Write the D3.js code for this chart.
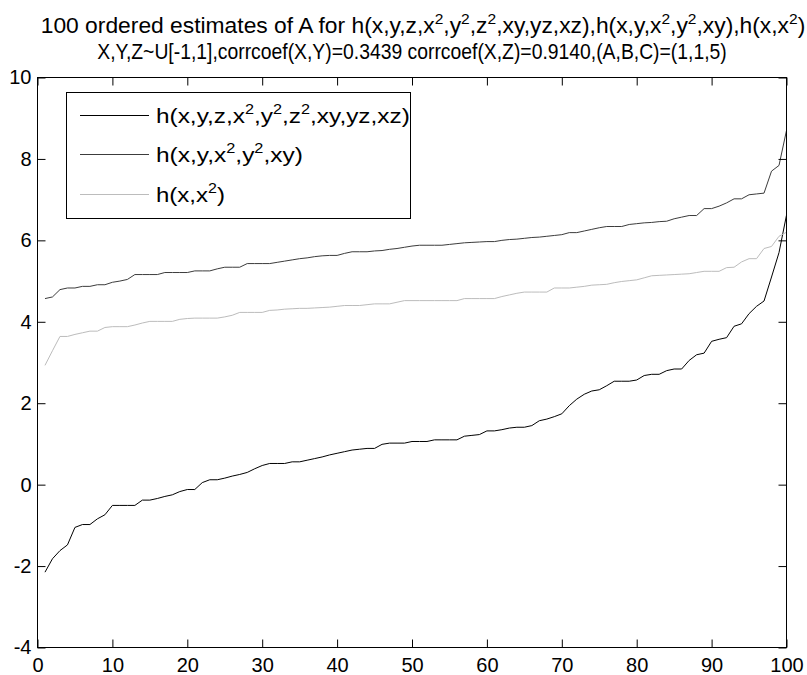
<!DOCTYPE html>
<html>
<head>
<meta charset="utf-8">
<script src="https://cdn.jsdelivr.net/npm/d3@7"></script>
<style>
  body { margin: 0; background: #fff; }
  svg { display: block; }
  text { font-family: "Liberation Sans", Arial, Helvetica, sans-serif; fill: #000; }
</style>
</head>
<body>
<svg id="chart" width="807" height="675"></svg>
<script>
// Sorted estimates of A, sample number 1..100
const fullModel = [
  -2.15, -1.82, -1.62, -1.48, -1.05, -0.98, -0.98, -0.84, -0.74, -0.51,
  -0.51, -0.51, -0.51, -0.38, -0.38, -0.34, -0.29, -0.25, -0.17, -0.12,
  -0.12, 0.05, 0.12, 0.12, 0.16, 0.21, 0.25, 0.30, 0.39, 0.47,
  0.52, 0.52, 0.52, 0.56, 0.56, 0.60, 0.64, 0.68, 0.73, 0.77,
  0.81, 0.85, 0.87, 0.89, 0.89, 0.99, 1.02, 1.02, 1.02, 1.06,
  1.06, 1.06, 1.10, 1.10, 1.10, 1.10, 1.19, 1.21, 1.23, 1.32,
  1.32, 1.35, 1.39, 1.41, 1.41, 1.45, 1.57, 1.61, 1.67, 1.74,
  1.94, 2.10, 2.22, 2.30, 2.33, 2.43, 2.54, 2.54, 2.54, 2.57,
  2.68, 2.71, 2.71, 2.80, 2.84, 2.84, 3.05, 3.19, 3.23, 3.52,
  3.57, 3.61, 3.89, 3.95, 4.20, 4.38, 4.51, 5.10, 5.70, 6.62
];
const partialModel = [
  4.57, 4.61, 4.79, 4.83, 4.83, 4.87, 4.87, 4.91, 4.91, 4.97,
  5.00, 5.04, 5.16, 5.16, 5.16, 5.16, 5.21, 5.21, 5.21, 5.21,
  5.25, 5.25, 5.25, 5.30, 5.34, 5.34, 5.34, 5.43, 5.43, 5.43,
  5.43, 5.46, 5.49, 5.52, 5.55, 5.57, 5.60, 5.62, 5.63, 5.63,
  5.68, 5.72, 5.72, 5.72, 5.74, 5.75, 5.78, 5.80, 5.83, 5.86,
  5.88, 5.88, 5.88, 5.88, 5.90, 5.92, 5.94, 5.95, 5.96, 5.97,
  5.97, 6.00, 6.02, 6.03, 6.05, 6.07, 6.08, 6.10, 6.12, 6.14,
  6.19, 6.19, 6.23, 6.27, 6.31, 6.34, 6.34, 6.34, 6.39, 6.41,
  6.43, 6.44, 6.46, 6.47, 6.53, 6.57, 6.61, 6.61, 6.78, 6.78,
  6.84, 6.92, 7.02, 7.02, 7.12, 7.14, 7.16, 7.70, 7.84, 8.70
];
const simpleModel = [
  2.93, 3.29, 3.64, 3.64, 3.69, 3.73, 3.77, 3.77, 3.86, 3.88,
  3.88, 3.88, 3.92, 3.97, 4.01, 4.01, 4.01, 4.01, 4.06, 4.08,
  4.09, 4.09, 4.09, 4.09, 4.12, 4.16, 4.23, 4.23, 4.23, 4.23,
  4.28, 4.29, 4.31, 4.32, 4.33, 4.33, 4.34, 4.35, 4.36, 4.38,
  4.40, 4.40, 4.40, 4.42, 4.44, 4.44, 4.44, 4.48, 4.52, 4.52,
  4.52, 4.52, 4.52, 4.52, 4.52, 4.52, 4.57, 4.57, 4.57, 4.57,
  4.57, 4.62, 4.66, 4.70, 4.73, 4.73, 4.73, 4.73, 4.83, 4.83,
  4.83, 4.85, 4.87, 4.90, 4.91, 4.92, 4.96, 4.99, 5.01, 5.03,
  5.08, 5.13, 5.14, 5.15, 5.16, 5.17, 5.18, 5.21, 5.24, 5.24,
  5.24, 5.33, 5.34, 5.47, 5.55, 5.55, 5.80, 5.85, 6.10, 6.20
];

const seriesLabels = ["h(x,y,z,x^2,y^2,z^2,xy,yz,xz)", "h(x,y,x^2,y^2,xy)", "h(x,x^2)"];
const seriesColors = ["#000000", "#3c3c3c", "#bcbcbc"];
const titleLines = [
  "100 ordered estimates of A for h(x,y,z,x^2,y^2,z^2,xy,yz,xz),h(x,y,x^2,y^2,xy),h(x,x^2)",
  "X,Y,Z~U[-1,1],corrcoef(X,Y)=0.3439 corrcoef(X,Z)=0.9140,(A,B,C)=(1,1,5)"
];
const xTickValues = [0, 10, 20, 30, 40, 50, 60, 70, 80, 90, 100];
const yTickValues = [-4, -2, 0, 2, 4, 6, 8, 10];

const svg = d3.select("#chart");
const plot = { left: 37.5, right: 786.5, top: 77.5, bottom: 647.5 };

const x = d3.scaleLinear().domain([0, 100]).range([plot.left, plot.right]);
const y = d3.scaleLinear().domain([-4, 10]).range([plot.bottom, plot.top]);

// Writes a label with "^n" turned into raised, smaller tspans
function richText(sel, str, size) {
  const parts = str.split(/\^(\d)/);
  const sup = Math.round(size * 0.68);
  const rise = Math.round(size * 0.42);
  let pendingDrop = 0;
  parts.forEach((p, i) => {
    if (p === "") return;
    if (i % 2 === 1) {
      sel.append("tspan").attr("dy", -rise + pendingDrop).style("font-size", sup + "px").text(p);
      pendingDrop = rise;
    } else {
      const ts = sel.append("tspan").style("font-size", size + "px").text(p);
      if (pendingDrop) ts.attr("dy", pendingDrop);
      pendingDrop = 0;
    }
  });
  return sel;
}

// Stretch a text element horizontally so it spans the given width around its anchor
function fitWidth(node, anchorX, width) {
  const w = node.getBBox().width;
  if (w > 0) {
    const s = width / w;
    d3.select(node).attr("transform", `translate(${anchorX},0) scale(${s},1) translate(${-anchorX},0)`);
  }
}

// Title
const titleSpecs = [
  { center: 423, width: 765, baseline: 33 },
  { center: 412, width: 630, baseline: 59 }
];
titleLines.forEach((line, i) => {
  const t = svg.append("text")
    .attr("x", titleSpecs[i].center)
    .attr("y", titleSpecs[i].baseline)
    .attr("text-anchor", "middle");
  richText(t, line, 22);
  fitWidth(t.node(), titleSpecs[i].center, titleSpecs[i].width);
});

// Data lines
const line = d3.line().x((d, i) => x(i + 1)).y(d => y(d));
const allSeries = [fullModel, partialModel, simpleModel];
svg.append("g").selectAll("path")
  .data(allSeries)
  .join("path")
  .attr("d", line)
  .attr("fill", "none")
  .attr("stroke", (d, i) => seriesColors[i])
  .attr("stroke-width", 1);

// Axes with inward ticks on all four sides
const tickLen = 8;
const plain = d => String(d);
const axisStyle = g => {
  g.select(".domain").remove();
  g.selectAll("line").attr("stroke", "#000");
  g.selectAll("text").style("font-size", "20px").attr("fill", "#000")
    .style("font-family", '"Liberation Sans", Arial, Helvetica, sans-serif');
};
const noLabels = g => g.selectAll("text").remove();
svg.append("g").attr("transform", `translate(0,${plot.bottom})`)
  .call(d3.axisBottom(x).tickValues(xTickValues).tickSize(-tickLen).tickPadding(10).tickFormat(plain))
  .call(axisStyle);
svg.append("g").attr("transform", `translate(0,${plot.top})`)
  .call(d3.axisTop(x).tickValues(xTickValues).tickSize(-tickLen))
  .call(axisStyle).call(noLabels);
svg.append("g").attr("transform", `translate(${plot.left},0)`)
  .call(d3.axisLeft(y).tickValues(yTickValues).tickSize(-tickLen).tickPadding(6).tickFormat(plain))
  .call(axisStyle);
svg.append("g").attr("transform", `translate(${plot.right},0)`)
  .call(d3.axisRight(y).tickValues(yTickValues).tickSize(-tickLen))
  .call(axisStyle).call(noLabels);

// Axes box
svg.append("rect")
  .attr("x", plot.left).attr("y", plot.top)
  .attr("width", plot.right - plot.left).attr("height", plot.bottom - plot.top)
  .attr("fill", "none").attr("stroke", "#000").attr("stroke-width", 1);

// Legend
const legend = { x: 66.5, y: 92.5, w: 344, h: 126 };
const legendRows = [115.5, 154.5, 194.5];
const legendTextWidths = [254, 147, 69];
const lg = svg.append("g");
lg.append("rect")
  .attr("x", legend.x).attr("y", legend.y).attr("width", legend.w).attr("height", legend.h)
  .attr("fill", "#fff").attr("stroke", "#000").attr("stroke-width", 1);
seriesLabels.forEach((lab, i) => {
  lg.append("line")
    .attr("x1", 80).attr("x2", 149)
    .attr("y1", legendRows[i]).attr("y2", legendRows[i])
    .attr("stroke", seriesColors[i]).attr("stroke-width", 1);
  const t = lg.append("text").attr("x", 156).attr("y", legendRows[i] + 8);
  richText(t, lab, 21);
  fitWidth(t.node(), 156, legendTextWidths[i]);
});
</script>
</body>
</html>
